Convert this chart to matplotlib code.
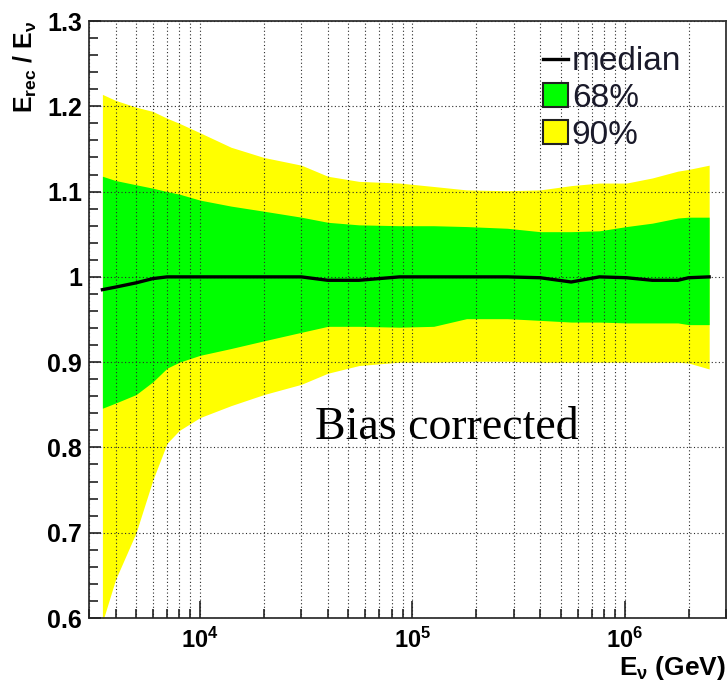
import numpy as np
import matplotlib
matplotlib.use("Agg")
import matplotlib.pyplot as plt
from matplotlib.lines import Line2D
from matplotlib.patches import Patch
from matplotlib.ticker import FixedLocator, LogLocator, MultipleLocator, FuncFormatter

plt.rcParams['font.family'] = ['Liberation Sans', 'DejaVu Sans']
plt.rcParams['mathtext.fontset'] = 'custom'
plt.rcParams['mathtext.rm'] = 'Liberation Sans:bold'
plt.rcParams['mathtext.it'] = 'Liberation Sans:bold'
plt.rcParams['mathtext.bf'] = 'Liberation Sans:bold'

# neutrino energy (GeV) and E_rec/E_nu quantiles
energy = [3470, 4000, 5000, 6000, 7000, 8000, 10000, 14000, 20000, 30000,
          40000, 56000, 87000, 126000, 180000, 280000, 400000, 560000,
          760000, 1020000, 1350000, 1780000, 2000000, 2500000]
median = [0.985, 0.988, 0.993, 0.998, 1.000, 1.000, 1.000, 1.000, 1.000, 1.000,
          0.996, 0.996, 1.000, 1.000, 1.000, 1.000, 0.999, 0.994,
          1.000, 0.999, 0.996, 0.996, 0.999, 1.000]
q68_hi = [1.118, 1.113, 1.108, 1.104, 1.100, 1.097, 1.090, 1.083, 1.077, 1.070,
          1.064, 1.061, 1.060, 1.060, 1.059, 1.057, 1.053, 1.053,
          1.054, 1.059, 1.063, 1.069, 1.070, 1.070]
q68_lo = [0.846, 0.852, 0.862, 0.877, 0.893, 0.900, 0.908, 0.916, 0.925, 0.935,
          0.942, 0.942, 0.941, 0.942, 0.951, 0.951, 0.949, 0.947,
          0.947, 0.946, 0.946, 0.946, 0.944, 0.944]
q90_hi = [1.214, 1.207, 1.199, 1.194, 1.186, 1.180, 1.169, 1.152, 1.140, 1.131,
          1.118, 1.112, 1.110, 1.106, 1.102, 1.101, 1.102, 1.107,
          1.110, 1.110, 1.116, 1.124, 1.126, 1.131]
q90_lo = [0.595, 0.645, 0.700, 0.762, 0.805, 0.820, 0.835, 0.849, 0.862, 0.874,
          0.887, 0.896, 0.900, 0.900, 0.901, 0.901, 0.900, 0.900,
          0.900, 0.900, 0.900, 0.900, 0.899, 0.892]

fig = plt.figure(figsize=(7.27, 6.85), dpi=100)
ax = fig.add_axes([0.1224, 0.0978, 0.8762, 0.8715])

ax.fill_between(energy, q90_lo, q90_hi, color='#ffff00', lw=0, zorder=1)
ax.fill_between(energy, q68_lo, q68_hi, color='#00ff00', lw=0, zorder=1.5)
ax.plot(energy, median, color='k', lw=2.4, zorder=3)

ax.set_xscale('log')
ax.set_xlim(3000, 3.0e6)
ax.set_ylim(0.6, 1.3)

ax.xaxis.set_major_locator(FixedLocator([1e4, 1e5, 1e6]))
ax.xaxis.set_minor_locator(LogLocator(base=10, subs=np.arange(2, 10)))
ax.xaxis.set_minor_formatter(FuncFormatter(lambda v, p: ''))
ax.xaxis.set_major_formatter(FuncFormatter(lambda v, p: r'$10^{%d}$' % round(np.log10(v))))
ax.yaxis.set_major_locator(MultipleLocator(0.1))
ax.yaxis.set_minor_locator(MultipleLocator(0.02))
ax.yaxis.set_major_formatter(FuncFormatter(lambda v, p: '%g' % round(v, 2)))

ax.tick_params(which='both', direction='in', top=False, right=False,
               color='#222222', width=1.2)
ax.tick_params(axis='x', which='major', length=12, pad=7, labelsize=17)
ax.tick_params(axis='x', which='minor', length=6.5)
ax.tick_params(axis='y', which='major', length=8.5, pad=5, labelsize=18)
ax.tick_params(axis='y', which='minor', length=6.5)
for lab in ax.get_yticklabels():
    lab.set_fontweight('bold')

# dotted ROOT-style grid over the bands
ax.set_axisbelow(False)
ax.grid(True, axis='x', which='both', color='#2a2a2a', lw=0.8, ls=(0, (1, 2.2)))
ax.grid(True, axis='y', which='major', color='#2a2a2a', lw=0.8, ls=(0, (1, 2.2)))

for s in ax.spines.values():
    s.set_color('#333333')
    s.set_linewidth(1.3)

ax.set_xlabel(r'$E_{\nu}$ (GeV)', loc='right', fontsize=19, fontweight='bold', labelpad=1)
ax.set_ylabel(r'$E_{rec}$ / $E_{\nu}$', loc='top', fontsize=18, fontweight='bold', labelpad=6)

ax.text(0.355, 0.318, 'Bias corrected', transform=ax.transAxes, ha='left', va='center',
        family='Liberation Serif', fontsize=33)

handles = [Line2D([], [], color='k', lw=2.4),
           Patch(facecolor='#00ff00', edgecolor='#222222', lw=1.5),
           Patch(facecolor='#ffff00', edgecolor='#222222', lw=1.5)]
leg = ax.legend(handles, ['median', '68%', '90%'], loc='upper left',
                bbox_to_anchor=(0.6916, 0.980), frameon=False, fontsize=24,
                handlelength=0.75, handleheight=0.72, handletextpad=0.12,
                labelspacing=0.17, borderaxespad=0)
for t in leg.get_texts():
    t.set_color('#1a1a2a')

fig.savefig('out.png', dpi=100)
